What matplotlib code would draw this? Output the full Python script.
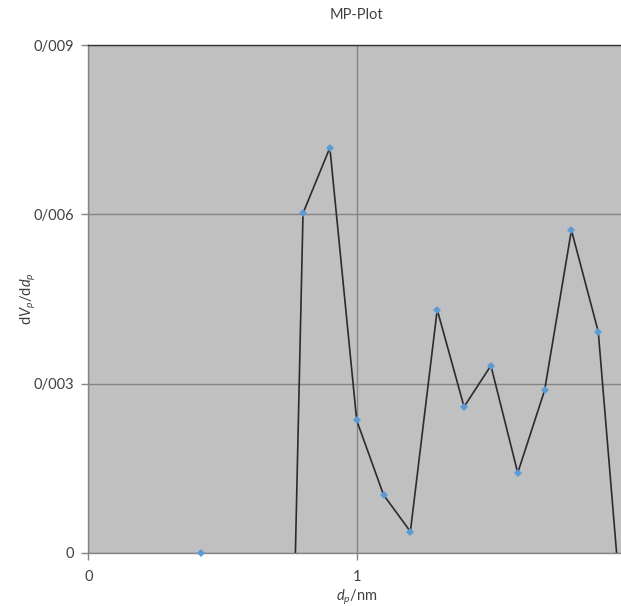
import numpy as np
import matplotlib
matplotlib.use('Agg')
import matplotlib.pyplot as plt
from matplotlib.ticker import FuncFormatter

plt.rcParams['font.family'] = ['Lato', 'DejaVu Sans']
plt.rcParams['mathtext.fontset'] = 'custom'
plt.rcParams['mathtext.rm'] = 'Lato'
plt.rcParams['mathtext.it'] = 'Lato:italic'

# MP-plot data: pore diameter (nm) vs dVp/ddp
dp = [0.42, 0.7, 0.8, 0.9, 1.0, 1.1, 1.2, 1.3, 1.4, 1.5, 1.6, 1.7, 1.8, 1.9, 2.0]
dv = [0.0, -0.0152, 0.00602, 0.00718, 0.00235, 0.00103, 0.00038, 0.00431,
      0.00259, 0.00332, 0.00142, 0.00288, 0.00572, 0.00392, -0.00182]

y_ticks = [0, 0.003, 0.006, 0.009]
x_ticks = [0, 1]

txt = '#404040'
grid_c = '#858585'

fig = plt.figure(figsize=(6.21, 6.06), dpi=100)
ax = fig.add_axes([88.3 / 621, 53 / 606, 536.8 / 621, 508 / 606])
ax.set_facecolor('#c0c0c0')

ax.plot(dp, dv, color='#2b2b2b', lw=1.2, zorder=3)
ax.plot(dp, dv, ls='none', marker='D', ms=4.5, color='#5b9bd5',
        markeredgewidth=0, zorder=4, clip_on=False)

ax.set_xlim(0, 2)
ax.set_ylim(0, 0.009)
ax.set_yticks(y_ticks)
ax.set_xticks(x_ticks)

def slash_fmt(v, pos):
    if abs(v) < 1e-12:
        return '0'
    if float(v).is_integer():
        return '%d' % v
    return ('%.3f' % v).replace('.', '/')

ax.yaxis.set_major_formatter(FuncFormatter(slash_fmt))
ax.xaxis.set_major_formatter(FuncFormatter(slash_fmt))

ax.grid(True, color=grid_c, lw=1.0, zorder=1)
ax.set_axisbelow(True)

for s in ['left', 'bottom']:
    ax.spines[s].set_color(grid_c)
    ax.spines[s].set_linewidth(1.0)
ax.spines['top'].set_color('#333333')
ax.spines['top'].set_linewidth(1.0)
ax.spines['right'].set_visible(False)

ax.tick_params(axis='both', direction='out', length=5, width=1.0,
               color=grid_c, labelcolor=txt, labelsize=10.5)
ax.tick_params(axis='x', pad=7)
ax.tick_params(axis='y', pad=5)

ax.set_title('MP-Plot', fontsize=10.5, color=txt, pad=19)
ax.set_xlabel(r'$d_p$/nm', fontsize=10.5, color=txt)
ax.xaxis.set_label_coords(0.5, -0.068)
ax.set_ylabel(r'd$V_p$/d$d_p$', fontsize=10.5, color=txt)
ax.yaxis.set_label_coords(-0.094, 0.5)

fig.savefig('out.png', dpi=100)
